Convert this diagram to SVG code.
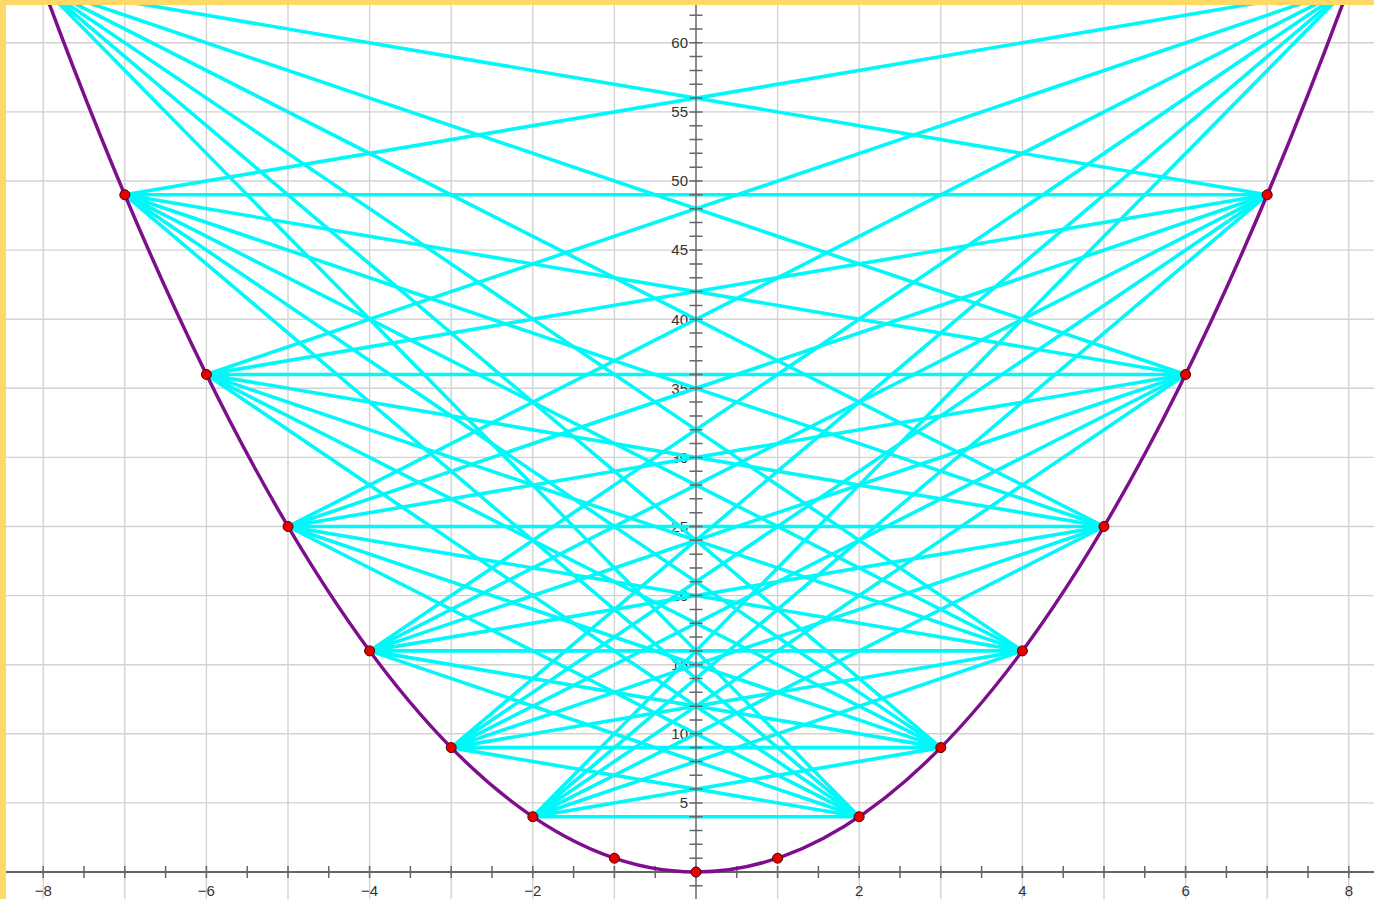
<svg xmlns="http://www.w3.org/2000/svg" width="1374" height="899" viewBox="0 0 1374 899">
<style>
.grid{stroke:#d2d2d2;stroke-width:1.4;fill:none}
.axis{stroke:#666;fill:none}
.lbl{font-family:"Liberation Sans",Arial,sans-serif;font-size:15px;fill:#333}
.yl{text-anchor:end}
.xl{text-anchor:middle}
.seg{stroke:#00f8f8;stroke-width:3.6;fill:none}
.curve{stroke:#7d0f8c;stroke-width:3.5;fill:none}
.pt{fill:#e80000;stroke:#4a0000;stroke-width:1}
</style>
<rect x="0" y="0" width="1374" height="899" fill="#fff"/>
<g id="grid">
<path class="grid" d="M43.2 0V899M124.8 0V899M206.4 0V899M288 0V899M369.6 0V899M451.2 0V899M532.8 0V899M614.4 0V899M777.6 0V899M859.2 0V899M940.8 0V899M1022.4 0V899M1104 0V899M1185.6 0V899M1267.2 0V899M1348.8 0V899"/>
<path class="grid" d="M0 802.9H1374M0 733.8H1374M0 664.7H1374M0 595.6H1374M0 526.5H1374M0 457.4H1374M0 388.3H1374M0 319.2H1374M0 250.1H1374M0 181H1374M0 111.9H1374M0 42.8H1374"/>
</g>
<g id="labels" class="lbl">
<text class="yl" x="688" y="808.2">5</text>
<text class="yl" x="688" y="739.1">10</text>
<text class="yl" x="688" y="670">15</text>
<text class="yl" x="688" y="600.9">20</text>
<text class="yl" x="688" y="531.8">25</text>
<text class="yl" x="688" y="462.7">30</text>
<text class="yl" x="688" y="393.6">35</text>
<text class="yl" x="688" y="324.5">40</text>
<text class="yl" x="688" y="255.4">45</text>
<text class="yl" x="688" y="186.3">50</text>
<text class="yl" x="688" y="117.2">55</text>
<text class="yl" x="688" y="48.1">60</text>
<text class="xl" x="43.2" y="895.5">−8</text>
<text class="xl" x="206.4" y="895.5">−6</text>
<text class="xl" x="369.6" y="895.5">−4</text>
<text class="xl" x="532.8" y="895.5">−2</text>
<text class="xl" x="859.2" y="895.5">2</text>
<text class="xl" x="1022.4" y="895.5">4</text>
<text class="xl" x="1185.6" y="895.5">6</text>
<text class="xl" x="1348.8" y="895.5">8</text>
</g>
<g id="connectors" class="seg">
<path d="M532.8 816.72L859.2 816.72M532.8 816.72L940.8 747.62M532.8 816.72L1022.4 650.88M532.8 816.72L1104 526.5M532.8 816.72L1185.6 374.48M532.8 816.72L1267.2 194.82M532.8 816.72L1348.8 -12.48"/>
<path d="M451.2 747.62L859.2 816.72M451.2 747.62L940.8 747.62M451.2 747.62L1022.4 650.88M451.2 747.62L1104 526.5M451.2 747.62L1185.6 374.48M451.2 747.62L1267.2 194.82M451.2 747.62L1348.8 -12.48"/>
<path d="M369.6 650.88L859.2 816.72M369.6 650.88L940.8 747.62M369.6 650.88L1022.4 650.88M369.6 650.88L1104 526.5M369.6 650.88L1185.6 374.48M369.6 650.88L1267.2 194.82M369.6 650.88L1348.8 -12.48"/>
<path d="M288 526.5L859.2 816.72M288 526.5L940.8 747.62M288 526.5L1022.4 650.88M288 526.5L1104 526.5M288 526.5L1185.6 374.48M288 526.5L1267.2 194.82M288 526.5L1348.8 -12.48"/>
<path d="M206.4 374.48L859.2 816.72M206.4 374.48L940.8 747.62M206.4 374.48L1022.4 650.88M206.4 374.48L1104 526.5M206.4 374.48L1185.6 374.48M206.4 374.48L1267.2 194.82M206.4 374.48L1348.8 -12.48"/>
<path d="M124.8 194.82L859.2 816.72M124.8 194.82L940.8 747.62M124.8 194.82L1022.4 650.88M124.8 194.82L1104 526.5M124.8 194.82L1185.6 374.48M124.8 194.82L1267.2 194.82M124.8 194.82L1348.8 -12.48"/>
<path d="M43.2 -12.48L859.2 816.72M43.2 -12.48L940.8 747.62M43.2 -12.48L1022.4 650.88M43.2 -12.48L1104 526.5M43.2 -12.48L1185.6 374.48M43.2 -12.48L1267.2 194.82"/>
</g>
<g id="axes">
<line class="axis" x1="6" y1="872" x2="1374" y2="872" stroke-width="2" stroke="#888"/>
<line class="axis" x1="42.45" y1="872" x2="1374" y2="872" stroke-width="12" stroke-dasharray="1.5 39.3" stroke="#888"/>
<line class="axis" x1="696" y1="899" x2="696" y2="0" stroke-width="1.5" stroke="#555"/>
<line class="axis" x1="696" y1="886.57" x2="696" y2="0" stroke-width="13" stroke-dasharray="1.5 12.32" stroke="#555"/>
</g>
<g id="parabola">
<path class="curve" d="M43.2 -12.48Q696 1756.48 1348.8 -12.48"/>
</g>
<g id="points">
<g id="p-7"><circle class="pt" cx="124.8" cy="194.82" r="5"/></g>
<g id="p-6"><circle class="pt" cx="206.4" cy="374.48" r="5"/></g>
<g id="p-5"><circle class="pt" cx="288" cy="526.5" r="5"/></g>
<g id="p-4"><circle class="pt" cx="369.6" cy="650.88" r="5"/></g>
<g id="p-3"><circle class="pt" cx="451.2" cy="747.62" r="5"/></g>
<g id="p-2"><circle class="pt" cx="532.8" cy="816.72" r="5"/></g>
<g id="p-1"><circle class="pt" cx="614.4" cy="858.18" r="5"/></g>
<g id="p0"><circle class="pt" cx="696" cy="872" r="5"/></g>
<g id="p1"><circle class="pt" cx="777.6" cy="858.18" r="5"/></g>
<g id="p2"><circle class="pt" cx="859.2" cy="816.72" r="5"/></g>
<g id="p3"><circle class="pt" cx="940.8" cy="747.62" r="5"/></g>
<g id="p4"><circle class="pt" cx="1022.4" cy="650.88" r="5"/></g>
<g id="p5"><circle class="pt" cx="1104" cy="526.5" r="5"/></g>
<g id="p6"><circle class="pt" cx="1185.6" cy="374.48" r="5"/></g>
<g id="p7"><circle class="pt" cx="1267.2" cy="194.82" r="5"/></g>
</g>
<g id="border" fill="#ffd966">
<rect x="0" y="0" width="6" height="899"/>
<rect x="0" y="0" width="1374" height="5"/>
</g>
</svg>
